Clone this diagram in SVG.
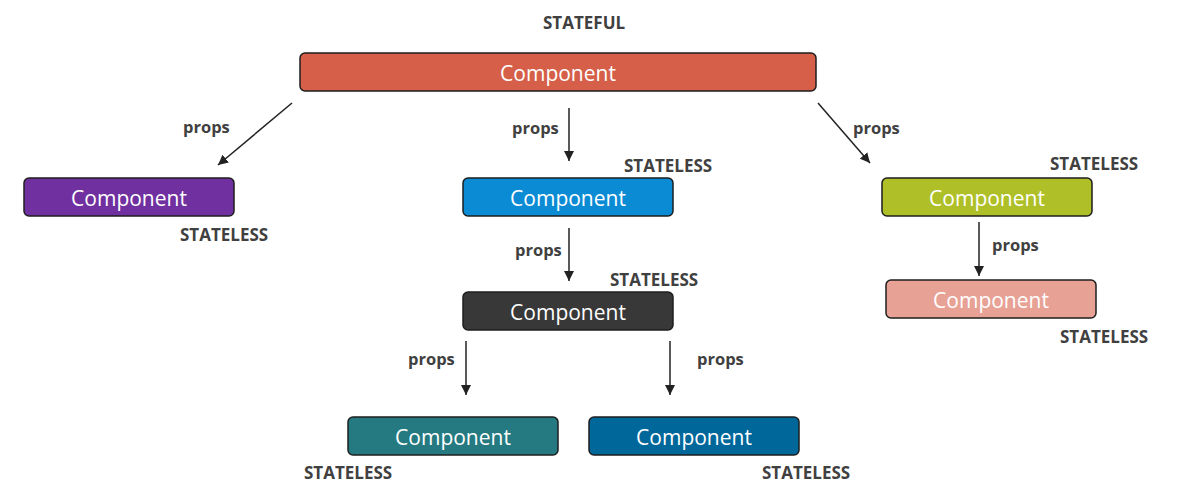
<svg xmlns="http://www.w3.org/2000/svg" width="1181" height="502" viewBox="0 0 1181 502">
<defs>
<marker id="ah" viewBox="0 0 10 10" refX="10" refY="5" markerWidth="10" markerHeight="10" markerUnits="userSpaceOnUse" orient="auto">
<path d="M0,0 L10,5 L0,10 Z" fill="#222"/>
</marker>
</defs>
<style>
.box{stroke:#1e1e1e;stroke-width:1.5}
.nt{font-family:"Open Sans","Noto Sans",sans-serif;font-size:21px;fill:#fff;text-anchor:middle}
.lb{font-family:"Open Sans","Noto Sans",sans-serif;font-size:16.5px;font-weight:bold;fill:#404040}
.st{font-size:17px}
.cn{stroke:#222;stroke-width:1.5;fill:none;marker-end:url(#ah)}
</style>
<rect width="1181" height="502" fill="#fff"/>
<g id="connectors">
<line class="cn" x1="292" y1="103" x2="218" y2="165"/>
<line class="cn" x1="569" y1="108" x2="569" y2="161"/>
<line class="cn" x1="818" y1="103" x2="870" y2="163"/>
<line class="cn" x1="569" y1="228" x2="569" y2="281"/>
<line class="cn" x1="979" y1="222" x2="979" y2="276"/>
<line class="cn" x1="466" y1="341" x2="466" y2="395"/>
<line class="cn" x1="670" y1="341" x2="670" y2="395"/>
<text class="lb" x="183" y="133">props</text>
<text class="lb" x="512" y="134">props</text>
<text class="lb" x="853" y="134">props</text>
<text class="lb" x="515" y="256">props</text>
<text class="lb" x="992" y="251">props</text>
<text class="lb" x="408" y="365">props</text>
<text class="lb" x="697" y="365">props</text>
</g>
<g id="root">
<text class="lb st" x="543" y="29">STATEFUL</text>
<rect class="box" x="300" y="53" width="516" height="38" rx="5" fill="#D55F49"/>
<text class="nt" x="558" y="81">Component</text>
</g>
<g id="left">
<rect class="box" x="24" y="178" width="210" height="38" rx="5" fill="#7030A0"/>
<text class="nt" x="129" y="206">Component</text>
<text class="lb st" x="180" y="241">STATELESS</text>
</g>
<g id="center1">
<rect class="box" x="463" y="178" width="210" height="38" rx="5" fill="#0B8BD4"/>
<text class="nt" x="568" y="206">Component</text>
<text class="lb st" x="624" y="172">STATELESS</text>
</g>
<g id="right1">
<rect class="box" x="882" y="178" width="210" height="38" rx="5" fill="#AFBF27"/>
<text class="nt" x="987" y="206">Component</text>
<text class="lb st" x="1050" y="170">STATELESS</text>
</g>
<g id="right2">
<rect class="box" x="886" y="280" width="210" height="38" rx="5" fill="#E8A195"/>
<text class="nt" x="991" y="308">Component</text>
<text class="lb st" x="1060" y="343">STATELESS</text>
</g>
<g id="center2">
<rect class="box" x="463" y="292" width="210" height="38" rx="5" fill="#383838"/>
<text class="nt" x="568" y="320">Component</text>
<text class="lb st" x="610" y="286">STATELESS</text>
</g>
<g id="bottomLeft">
<rect class="box" x="348" y="417" width="210" height="38" rx="5" fill="#247A80"/>
<text class="nt" x="453" y="445">Component</text>
<text class="lb st" x="304" y="479">STATELESS</text>
</g>
<g id="bottomRight">
<rect class="box" x="589" y="417" width="210" height="38" rx="5" fill="#00679B"/>
<text class="nt" x="694" y="445">Component</text>
<text class="lb st" x="762" y="479">STATELESS</text>
</g>
</svg>
